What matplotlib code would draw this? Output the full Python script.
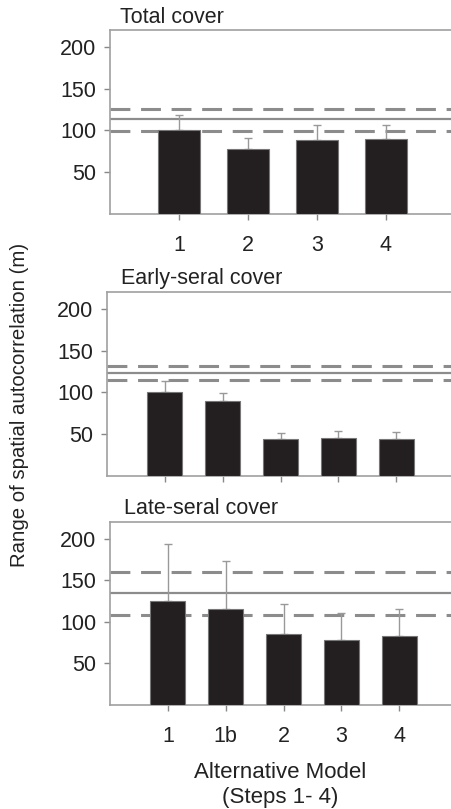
import matplotlib
matplotlib.use("Agg")
import matplotlib.pyplot as plt
import numpy as np

plt.rcParams['font.family'] = ['Liberation Sans', 'DejaVu Sans']

# values
total_labels = ['1', '2', '3', '4']
total_means = [101, 78, 89, 90]
total_upper = [118, 91, 106, 106]
total_lines = [126, 113, 99]   # dashed, solid, dashed

early_labels = ['', '', '', '', '']
early_means = [101, 90, 44, 46, 44]
early_upper = [113, 99, 51, 54, 53]
early_lines = [132, 123, 115]

late_labels = ['1', '1b', '2', '3', '4']
late_means = [125, 115, 85, 78, 83]
late_upper = [193, 173, 121, 111, 116]
late_lines = [160, 135, 108]

W, H = 451, 809
fig = plt.figure(figsize=(W / 100, H / 100), dpi=100)

grey = '#8c8c8c'
bar_col = '#231f20'
txt = '#222222'
fs = 15.5


def px_axes(left, top, bottom, right):
    return fig.add_axes([left / W, 1 - bottom / H, (right - left) / W, (bottom - top) / H])


def panel(ax, labels, means, upper, lines, title, tx, ty):
    x = np.arange(1, len(means) + 1)
    err = np.array(upper) - np.array(means)
    ax.bar(x, means, width=0.6, color=bar_col, edgecolor='#777777', linewidth=0.8, zorder=3)
    ax.errorbar(x, means, yerr=[np.zeros(len(err)), err], fmt='none',
                ecolor='#999999', elinewidth=1.0, capsize=3, capthick=1.0, zorder=2)
    ax.axhline(lines[0], color=grey, lw=2.2, ls=(0, (6.5, 3.5)), zorder=1)
    ax.axhline(lines[1], color=grey, lw=1.6, zorder=1)
    ax.axhline(lines[2], color=grey, lw=2.2, ls=(0, (6.5, 3.5)), zorder=1)
    ax.set_xlim(0, len(means) + 1)
    ax.set_ylim(0, 220)
    ax.set_xticks(x)
    ax.set_xticklabels(labels, fontsize=fs, color=txt)
    ax.set_yticks([50, 100, 150, 200])
    ax.set_yticklabels(['50', '100', '150', '200'], fontsize=fs, color=txt)
    ax.tick_params(direction='out', length=4, width=1.0, color='#888888', pad=6)
    ax.tick_params(axis='x', pad=11)
    ax.spines['right'].set_visible(False)
    for s in ['left', 'bottom', 'top']:
        ax.spines[s].set_color('#a0a0a0')
        ax.spines[s].set_linewidth(1.2)
    fig.text(tx / W, 1 - ty / H, title, fontsize=fs, color=txt, va='bottom', ha='left')


ax1 = px_axes(110, 30, 214, 455)
panel(ax1, total_labels, total_means, total_upper, total_lines, 'Total cover', 120, 28)

ax2 = px_axes(107, 292, 476, 454)
panel(ax2, early_labels, early_means, early_upper, early_lines, 'Early-seral cover', 121, 289)

ax3 = px_axes(110, 522, 705, 457)
panel(ax3, late_labels, late_means, late_upper, late_lines, 'Late-seral cover', 124, 519)

fig.text(20 / W, 1 - 405 / H, 'Range of spatial autocorrelation (m)', rotation=90,
         fontsize=14.7, color=txt, ha='center', va='center')
fig.text(280 / W, 1 - 772 / H, 'Alternative Model', fontsize=16, color=txt,
         ha='center', va='center')
fig.text(280 / W, 1 - 797 / H, '(Steps 1- 4)', fontsize=16, color=txt,
         ha='center', va='center')

fig.savefig('out.png', dpi=100)
